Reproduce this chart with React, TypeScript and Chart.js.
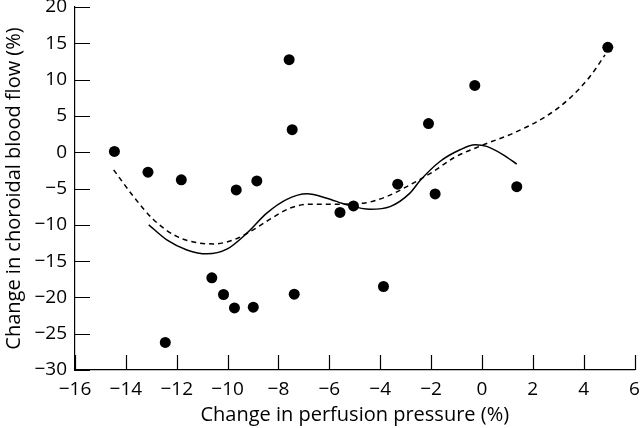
import React, { useEffect, useRef } from "react";
import { Chart, registerables } from "chart.js";

Chart.register(...registerables);

// Scatter data (change in perfusion pressure %, change in choroidal blood flow %)
const scatterX = [-14.45, -13.13, -11.82, -9.66, -8.85, -7.58, -7.46, 4.95, -0.28, -2.1, -3.31, -1.84, 1.37, -5.05, -5.58, -10.62, -10.16, -9.73, -8.99, -7.38, -12.45, -3.87];
const scatterY = [0.1, -2.75, -3.8, -5.2, -3.95, 12.75, 3.1, 14.45, 9.2, 3.95, -4.4, -5.75, -4.75, -7.4, -8.3, -17.3, -19.6, -21.45, -21.35, -19.55, -26.2, -18.5];

// Solid fitted curve
const solidX = [-13.1, -12.39, -11.6, -10.81, -10.03, -9.24, -8.46, -7.67, -6.88, -6.1, -5.31, -4.4, -3.61, -2.83, -2.43, -1.65, -0.86, -0.27, 0.19, 0.84, 1.37];
const solidY = [-10.0, -12.08, -13.46, -14.0, -13.36, -11.15, -8.4, -6.5, -5.74, -6.33, -7.25, -7.85, -7.49, -5.64, -3.9, -1.28, 0.33, 1.02, 0.8, -0.36, -1.64];

// Dashed fitted curve
const dashX = [-14.48, -13.7, -12.91, -12.0, -11.08, -10.55, -9.77, -9.11, -8.33, -7.54, -6.76, -5.7, -4.66, -3.74, -2.83, -1.91, -1.12, 0.06, 1.24, 2.55, 3.46, 4.25, 4.84];
const dashY = [-2.43, -6.1, -9.3, -11.6, -12.53, -12.63, -12.08, -10.93, -9.23, -7.7, -7.16, -7.16, -7.02, -6.1, -4.5, -2.66, -0.8, 1.02, 2.63, 5.0, 7.45, 10.43, 13.4];

const xTitle = "Change in perfusion pressure (%)";
const yTitle = "Change in choroidal blood flow (%)";

const FONT = "'Open Sans', sans-serif";

const zip = (xs: number[], ys: number[]) => xs.map((x, i) => ({ x, y: ys[i] }));

const inwardTicks = {
  id: "inwardTicks",
  afterDraw(chart: any) {
    const { ctx, chartArea } = chart;
    const xs = chart.scales.x;
    const ys = chart.scales.y;
    const len = 15;
    ctx.save();
    ctx.strokeStyle = "#000";
    ctx.lineWidth = 1.2;
    ctx.beginPath();
    xs.ticks.forEach((t: any) => {
      const px = Math.round(xs.getPixelForValue(t.value)) + 0.5;
      ctx.moveTo(px, chartArea.bottom);
      ctx.lineTo(px, chartArea.bottom - len);
    });
    ys.ticks.forEach((t: any) => {
      const py = Math.round(ys.getPixelForValue(t.value)) + 0.5;
      ctx.moveTo(chartArea.left, py);
      ctx.lineTo(chartArea.left + len, py);
    });
    ctx.stroke();
    ctx.restore();
  },
};

const fmt = (v: any) => String(v).replace("-", "\u2212");

export default function App() {
  const ref = useRef<HTMLCanvasElement | null>(null);
  useEffect(() => {
    if (!ref.current) return;
    const chart = new Chart(ref.current, {
      type: "scatter",
      data: {
        datasets: [
          {
            type: "line",
            data: zip(solidX, solidY),
            borderColor: "#000",
            borderWidth: 1.5,
            pointRadius: 0,
            cubicInterpolationMode: "monotone",
            fill: false,
          } as any,
          {
            type: "line",
            data: zip(dashX, dashY),
            borderColor: "#000",
            borderWidth: 1.5,
            borderDash: [5, 4],
            pointRadius: 0,
            cubicInterpolationMode: "monotone",
            fill: false,
          } as any,
          {
            data: zip(scatterX, scatterY),
            backgroundColor: "#000",
            borderColor: "#000",
            pointRadius: 5.5,
            pointBorderWidth: 0,
          },
        ],
      },
      options: {
        responsive: false,
        animation: false,
        layout: { padding: { top: 7, right: 5, left: 0, bottom: 0 } },
        plugins: { legend: { display: false }, tooltip: { enabled: false } },
        scales: {
          x: {
            type: "linear",
            min: -16,
            max: 6,
            afterFit: (s: any) => { s.height = 58; s.paddingLeft = 0; s.paddingRight = 0; },
            ticks: { stepSize: 2, color: "#000", padding: 8, font: { family: FONT, size: 19 }, callback: fmt, maxRotation: 0 },
            grid: { display: true, drawOnChartArea: false, drawTicks: false },
            border: { display: true, color: "#000", width: 1.2 },
            title: { display: true, text: xTitle, color: "#000", font: { family: FONT, size: 20 }, padding: { top: 0, bottom: 1 } },
          },
          y: {
            type: "linear",
            min: -30,
            max: 20,
            afterFit: (s: any) => { s.width = 75; s.paddingTop = 0; s.paddingBottom = 0; },
            ticks: { stepSize: 5, color: "#000", padding: 8, font: { family: FONT, size: 19 }, callback: fmt },
            grid: { display: true, drawOnChartArea: false, drawTicks: false },
            border: { display: true, color: "#000", width: 1.2 },
            title: { display: true, text: yTitle, color: "#000", font: { family: FONT, size: 20 }, padding: { top: 2, bottom: 0 } },
          },
        },
      },
      plugins: [inwardTicks],
    });
    return () => chart.destroy();
  }, []);
  return (
    <div style={{ position: "absolute", left: 0, top: 0, width: 640, height: 428, background: "#fff" }}>
      <canvas ref={ref} width={640} height={428} style={{ display: "block" }} />
    </div>
  );
}
